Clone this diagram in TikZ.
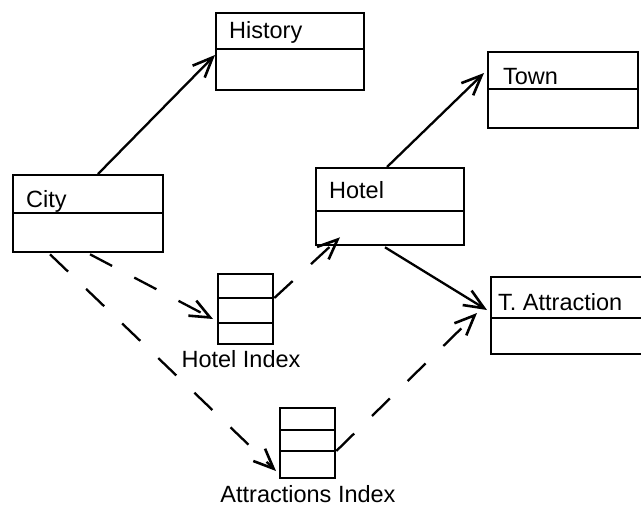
\documentclass[tikz,border=0pt]{standalone}
\usepackage{fontspec}
\setmainfont{Liberation Sans}
\usetikzlibrary{arrows.meta,calc}
\begin{document}
\begin{tikzpicture}[x=1pt,y=-1pt,
  line width=2.3pt,
  >={Straight Barb[length=20pt,width=17pt,line width=2.6pt]},
  classbox/.style={draw,rectangle,inner sep=0pt,anchor=north west,minimum width=#1},
  classbox/.default=148pt,
  idxbox/.style={draw,rectangle,inner sep=0pt,anchor=north west,minimum width=55pt,minimum height=70pt},
  lbl/.style={inner sep=0pt,anchor=base west,font=\fontsize{23.5}{28}\selectfont},
  caption/.style={inner sep=0pt,anchor=base,font=\fontsize{23.5}{28}\selectfont},
  dep/.style={dash pattern=on 25pt off 25pt,->},
  assoc/.style={->}]
\useasboundingbox (0,0) rectangle (641,509);
\clip (0,0) rectangle (641,509);

% class boxes
\node[classbox, minimum height=77pt] (history) at (215,12) {};
\draw (215,49) -- (364,49);
\node[lbl] (historyname) at (228,38) {History};

\node[classbox=150pt, minimum height=77pt] (city) at (12,174) {};
\draw (12,213) -- (162,213);
\node[lbl] (cityname) at (25,207) {City};

\node[classbox, minimum height=77pt] (hotel) at (315,167) {};
\draw (315,211) -- (463,211);
\node[lbl] (hotelname) at (328,198) {Hotel};

\node[classbox=150pt, minimum height=76pt] (town) at (487,51) {};
\draw (487,89) -- (637,89);
\node[lbl] (townname) at (502,84) {Town};

\node[classbox=160pt, minimum height=77pt] (tattr) at (490,276) {};
\draw (490,318) -- (650,318);
\node[lbl] (tattrname) at (497,310) {T. Attraction};

% index boxes
\node[idxbox] (hidx) at (217,273) {};
\draw (217,298) -- (272,298) (217,323) -- (272,323);
\node[caption] (hidxname) at (241,367) {Hotel Index};

\node[idxbox] (aidx) at (279,407) {};
\draw (279,430) -- (334,430) (279,451) -- (334,451);
\node[caption] (aidxname) at (308,502) {Attractions Index};

% associations
\draw[assoc] ($(city.north west)+(86,0)$) -- ($(history.north west)+(0,43)$);
\draw[assoc] ($(hotel.north west)+(72,0)$) -- ($(town.north west)+(-3,22)$);
\draw[assoc] ($(hotel.south west)+(70,1)$) -- ($(tattr.north west)+(-3,34)$);

% index links
\draw[dep] ($(city.south west)+(78,1)$) -- ($(hidx.north west)+(-4,46)$);
\draw[dep] ($(hidx.north east)+(0,25)$) -- ($(hotel.south west)+(25,-9)$);
\draw[dep] ($(city.south west)+(38,1)$) -- ($(aidx.north west)+(-3,64)$);
\draw[dep] ($(aidx.north east)+(0,44)$) -- ($(tattr.north west)+(-13,37)$);
\end{tikzpicture}
\end{document}
